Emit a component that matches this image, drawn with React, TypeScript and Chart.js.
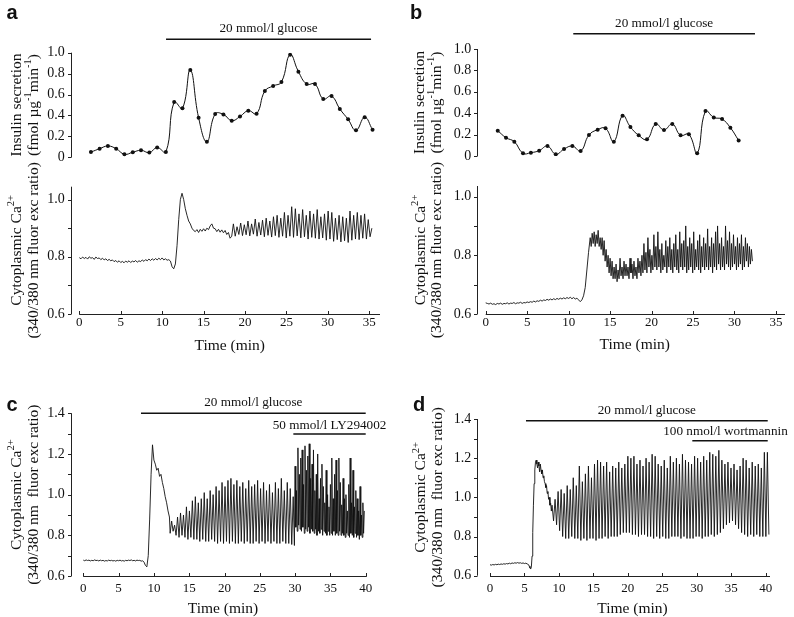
import React, { useEffect, useRef } from 'react';
import { Chart, registerables } from 'chart.js';
Chart.register(...registerables);

// ---------------- DATA ----------------
// Insulin secretion (fmol µg-1 min-1), panel a
const insATime = [1.4, 2.45, 3.45, 4.45, 5.45, 6.45, 7.45, 8.45, 9.4, 10.45, 11.45, 12.45, 13.4, 14.4, 15.4, 16.4, 17.4, 18.4, 19.4, 20.4, 21.4, 22.4, 23.4, 24.4, 25.45, 26.45, 27.45, 28.45, 29.45, 30.45, 31.45, 32.45, 33.4, 34.45, 35.4];
const insAVal = [0.05, 0.082, 0.108, 0.082, 0.029, 0.048, 0.067, 0.045, 0.093, 0.05, 0.529, 0.468, 0.835, 0.379, 0.149, 0.414, 0.41, 0.35, 0.39, 0.446, 0.417, 0.634, 0.682, 0.72, 0.981, 0.819, 0.7, 0.7, 0.557, 0.586, 0.462, 0.363, 0.258, 0.382, 0.264];
// Insulin secretion, panel b
const insBTime = [1.45, 2.45, 3.45, 4.5, 5.45, 6.45, 7.45, 8.45, 9.45, 10.45, 11.45, 12.45, 13.5, 14.45, 15.45, 16.5, 17.45, 18.45, 19.45, 20.5, 21.5, 22.5, 23.5, 24.5, 25.5, 26.5, 27.5, 28.5, 29.5, 30.5];
const insBVal = [0.237, 0.171, 0.134, 0.025, 0.031, 0.05, 0.093, 0.016, 0.065, 0.093, 0.047, 0.196, 0.246, 0.259, 0.134, 0.377, 0.271, 0.193, 0.156, 0.299, 0.243, 0.299, 0.193, 0.203, 0.025, 0.42, 0.36, 0.345, 0.265, 0.145];

// Ca2+ ratio, panel a: baseline (from 0 min, every 0.2 min)
const caABase = [0.797, 0.793, 0.799, 0.794, 0.798, 0.792, 0.8, 0.795, 0.797, 0.791, 0.799, 0.794, 0.796, 0.79, 0.795, 0.789, 0.793, 0.787, 0.791, 0.786, 0.789, 0.783, 0.787, 0.781, 0.786, 0.78, 0.784, 0.779, 0.785, 0.781, 0.786, 0.78, 0.785, 0.782, 0.787, 0.781, 0.786, 0.783, 0.789, 0.784, 0.79, 0.786, 0.792, 0.787, 0.793, 0.788, 0.794, 0.789, 0.795, 0.79, 0.796, 0.789, 0.793, 0.788, 0.79];
// transient (from 11.0 min, every 0.2 min)
const caARise = [0.785, 0.765, 0.758, 0.775, 0.84, 0.93, 1.0, 1.022, 1.0, 0.968, 0.945, 0.925, 0.915, 0.9, 0.892, 0.888, 0.895, 0.885, 0.896, 0.889, 0.898, 0.89, 0.9, 0.895, 0.908, 0.915, 0.9, 0.898, 0.888, 0.896, 0.886, 0.894, 0.884, 0.892, 0.878, 0.885, 0.865, 0.872];
// oscillations (from 18.6 min): peaks and troughs
const caAPeaks = [0.915, 0.905, 0.918, 0.912, 0.925, 0.915, 0.932, 0.92, 0.928, 0.935, 0.925, 0.94, 0.945, 0.935, 0.955, 0.945, 0.975, 0.968, 0.95, 0.965, 0.945, 0.96, 0.95, 0.965, 0.94, 0.95, 0.96, 0.955, 0.935, 0.945, 0.94, 0.935, 0.96, 0.945, 0.955, 0.945, 0.95, 0.93, 0.9];
const caATroughs = [0.872, 0.878, 0.874, 0.877, 0.873, 0.879, 0.872, 0.876, 0.87, 0.875, 0.869, 0.874, 0.868, 0.872, 0.866, 0.872, 0.868, 0.873, 0.866, 0.87, 0.862, 0.868, 0.865, 0.862, 0.866, 0.858, 0.862, 0.854, 0.86, 0.852, 0.856, 0.85, 0.858, 0.862, 0.86, 0.865, 0.862, 0.87];

// Ca2+ ratio, panel b
const caBBase = [0.638, 0.636, 0.634, 0.637, 0.633, 0.635, 0.632, 0.636, 0.634, 0.637, 0.633, 0.636, 0.635, 0.638, 0.634, 0.637, 0.636, 0.639, 0.635, 0.638, 0.637, 0.64, 0.636, 0.639, 0.638, 0.641, 0.639, 0.642, 0.64, 0.644, 0.641, 0.645, 0.643, 0.647, 0.644, 0.648, 0.646, 0.65, 0.647, 0.651, 0.648, 0.652, 0.649, 0.653, 0.65, 0.654, 0.651, 0.655, 0.652, 0.656, 0.653, 0.657, 0.652, 0.656, 0.651, 0.654, 0.648];
const caBRise = [0.642, 0.648, 0.662, 0.69, 0.75, 0.81];
const caBPeaks = [0.86, 0.875, 0.88, 0.87, 0.885, 0.86, 0.86, 0.85, 0.82, 0.8, 0.79, 0.78, 0.76, 0.77, 0.75, 0.79, 0.76, 0.78, 0.77, 0.76, 0.79, 0.77, 0.78, 0.76, 0.79, 0.78, 0.8, 0.84, 0.81, 0.86, 0.82, 0.8, 0.87, 0.83, 0.88, 0.82, 0.84, 0.8, 0.85, 0.83, 0.86, 0.82, 0.84, 0.87, 0.82, 0.88, 0.84, 0.85, 0.9, 0.83, 0.86, 0.84, 0.88, 0.82, 0.85, 0.87, 0.83, 0.86, 0.84, 0.89, 0.83, 0.86, 0.84, 0.88, 0.9, 0.84, 0.86, 0.83, 0.9, 0.85, 0.88, 0.84, 0.87, 0.83, 0.86, 0.84, 0.87, 0.83, 0.86, 0.84, 0.83, 0.82];
const caBTroughs = [0.83, 0.84, 0.83, 0.84, 0.83, 0.82, 0.8, 0.78, 0.76, 0.74, 0.73, 0.72, 0.72, 0.71, 0.72, 0.73, 0.72, 0.73, 0.73, 0.72, 0.74, 0.72, 0.73, 0.72, 0.74, 0.73, 0.74, 0.75, 0.74, 0.76, 0.74, 0.75, 0.76, 0.75, 0.76, 0.74, 0.75, 0.76, 0.74, 0.76, 0.75, 0.74, 0.76, 0.75, 0.74, 0.76, 0.75, 0.76, 0.74, 0.75, 0.76, 0.74, 0.75, 0.76, 0.75, 0.74, 0.76, 0.75, 0.76, 0.75, 0.76, 0.74, 0.76, 0.75, 0.77, 0.75, 0.76, 0.75, 0.77, 0.76, 0.75, 0.76, 0.77, 0.75, 0.76, 0.77, 0.75, 0.76, 0.78, 0.76, 0.77, 0.78];

// Ca2+ ratio, panel c
const caCBase = [0.678, 0.675, 0.679, 0.676, 0.678, 0.674, 0.677, 0.675, 0.679, 0.676, 0.677, 0.674, 0.678, 0.675, 0.677, 0.673, 0.676, 0.674, 0.678, 0.675, 0.677, 0.674, 0.676, 0.673, 0.677, 0.675, 0.678, 0.674, 0.676, 0.673, 0.677, 0.675, 0.678, 0.676, 0.679, 0.675, 0.677, 0.674, 0.678, 0.676, 0.677, 0.673, 0.675];
const caCRise = [0.668, 0.652, 0.645, 0.7, 0.88, 1.1, 1.245, 1.17, 1.15, 1.12, 1.13, 1.09, 1.1, 1.06, 1.03, 0.99, 0.96, 0.92, 0.89];
const caCTroughs = [0.81, 0.82, 0.8, 0.79, 0.8, 0.79, 0.78, 0.79, 0.78, 0.78, 0.77, 0.78, 0.77, 0.77, 0.78, 0.77, 0.76, 0.77, 0.76, 0.77, 0.76, 0.77, 0.76, 0.76, 0.77, 0.76, 0.77, 0.76, 0.76, 0.77, 0.76, 0.77, 0.76, 0.77, 0.76, 0.77, 0.76, 0.76, 0.77, 0.76, 0.76, 0.755];
const caCPeaks = [0.87, 0.85, 0.89, 0.91, 0.9, 0.94, 0.92, 0.97, 0.99, 0.96, 0.98, 1.01, 0.98, 1.02, 1.0, 1.04, 1.02, 1.06, 1.04, 1.07, 1.08, 1.05, 1.07, 1.04, 1.06, 1.03, 1.07, 1.04, 1.05, 1.07, 1.03, 1.06, 1.02, 1.05, 1.01, 1.06, 1.03, 1.08, 1.02, 1.06, 1.03, 0.99];
const caCLyTroughs = [0.75, 0.84, 0.82, 0.85, 0.83, 0.82, 0.84, 0.81, 0.83, 0.82, 0.84, 0.81, 0.83, 0.82, 0.81, 0.83, 0.8, 0.82, 0.81, 0.83, 0.8, 0.82, 0.81, 0.8, 0.82, 0.8, 0.81, 0.8, 0.82, 0.8, 0.81, 0.8, 0.82, 0.8, 0.81, 0.8, 0.79, 0.81, 0.8, 0.79, 0.81, 0.8, 0.79, 0.81, 0.79, 0.8, 0.78, 0.8, 0.79, 0.81];
const caCLyPeaks = [1.14, 1.02, 1.23, 1.1, 1.18, 1.22, 1.05, 1.24, 1.12, 1.19, 1.25, 1.08, 1.15, 1.22, 1.02, 1.1, 1.2, 0.98, 1.08, 1.15, 1.04, 0.96, 1.12, 1.0, 0.94, 1.05, 1.18, 0.98, 1.1, 1.17, 1.02, 1.18, 1.06, 0.95, 1.08, 0.98, 1.0, 0.92, 1.05, 1.18, 0.96, 1.12, 0.94, 1.02, 0.98, 0.92, 1.04, 0.9, 0.96, 0.92];

// Ca2+ ratio, panel d
const caDBase = [0.656, 0.654, 0.657, 0.655, 0.658, 0.656, 0.659, 0.657, 0.66, 0.658, 0.661, 0.659, 0.662, 0.66, 0.664, 0.661, 0.665, 0.663, 0.666, 0.664, 0.667, 0.664, 0.666, 0.663, 0.665, 0.662, 0.664, 0.66];
const caDRise = [0.656, 0.648, 0.64, 0.634, 0.645, 0.7, 0.82, 0.96, 1.07, 1.14, 1.18, 1.19, 1.17, 1.15, 1.18, 1.16, 1.13, 1.17, 1.14, 1.12, 1.14, 1.1, 1.11, 1.08, 1.07, 1.05, 1.06, 1.02, 1.03, 0.99, 1.0, 0.96, 0.97, 0.93];
const caDPeaks = [0.96, 0.99, 1.03, 1.04, 1.02, 1.06, 1.04, 1.1, 1.06, 1.16, 1.08, 1.12, 1.16, 1.1, 1.17, 1.19, 1.18, 1.16, 1.18, 1.13, 1.16, 1.15, 1.18, 1.15, 1.17, 1.21, 1.2, 1.21, 1.17, 1.19, 1.16, 1.2, 1.18, 1.22, 1.21, 1.17, 1.16, 1.19, 1.15, 1.21, 1.18, 1.2, 1.17, 1.22, 1.19, 1.18, 1.17, 1.21, 1.2, 1.18, 1.21, 1.19, 1.23, 1.22, 1.21, 1.24, 1.19, 1.17, 1.18, 1.15, 1.17, 1.14, 1.16, 1.2, 1.19, 1.15, 1.18, 1.16, 1.17, 1.15, 1.23, 1.23];
const caDTroughs = [0.88, 0.86, 0.83, 0.8, 0.79, 0.79, 0.8, 0.79, 0.79, 0.78, 0.79, 0.78, 0.79, 0.79, 0.78, 0.79, 0.79, 0.8, 0.79, 0.8, 0.8, 0.8, 0.81, 0.82, 0.82, 0.82, 0.81, 0.81, 0.8, 0.81, 0.81, 0.8, 0.8, 0.79, 0.8, 0.79, 0.8, 0.79, 0.79, 0.8, 0.8, 0.8, 0.79, 0.8, 0.79, 0.79, 0.79, 0.8, 0.8, 0.79, 0.8, 0.8, 0.81, 0.8, 0.81, 0.82, 0.84, 0.86, 0.87, 0.88, 0.86, 0.84, 0.82, 0.81, 0.8, 0.81, 0.8, 0.81, 0.8, 0.8, 0.8, 0.81];

// Treatment periods (min)
const glucoseA = [10.47, 35.22];
const glucoseB = [10.56, 32.47];
const glucoseC = [8.17, 40.0];
const lyC = [29.75, 40.0];
const glucoseD = [5.22, 40.29];
const wortD = [29.35, 40.29];

// Axis ranges (min)
const timeRangeA = [-1.04, 36.3];
const timeRangeB = [-1.013, 36.09];
const timeRangeC = [-1.785, 40.14];
const timeRangeD = [-1.843, 40.62];

// ---------------- HELPERS ----------------
type Pt = { x: number; y: number };
const seg = (t0: number, dt: number, vals: number[]): Pt[] =>
  vals.map((v, i) => ({ x: +(t0 + i * dt).toFixed(4), y: v }));
const alt = (t0: number, half: number, a: number[], b: number[]): Pt[] => {
  const out: Pt[] = [];
  const n = Math.max(a.length, b.length);
  for (let i = 0; i < n; i++) {
    if (i < a.length) out.push({ x: +(t0 + 2 * i * half).toFixed(4), y: a[i] });
    if (i < b.length) out.push({ x: +(t0 + (2 * i + 1) * half).toFixed(4), y: b[i] });
  }
  return out;
};
const pairs = (ts: number[], vs: number[]): Pt[] => ts.map((t, i) => ({ x: t, y: vs[i] }));

const traceA = [...seg(0, 0.2, caABase), ...seg(11.0, 0.2, caARise), ...alt(18.6, 0.22, caAPeaks, caATroughs)];
const traceB = [...seg(0, 0.2, caBBase), ...seg(11.4, 0.2, caBRise), ...alt(12.6, 0.12, caBPeaks, caBTroughs)];
const traceC = [...seg(0, 0.2, caCBase), ...seg(8.6, 0.2, caCRise), ...alt(12.3, 0.21, caCTroughs, caCPeaks), ...alt(29.9, 0.1, caCLyTroughs, caCLyPeaks)];
const traceD = [...seg(0, 0.2, caDBase), ...seg(5.6, 0.1, caDRise), ...alt(9.0, 0.22, caDPeaks, caDTroughs)];

// ---------------- STYLE / LAYOUT ----------------
const W = 794;
const H = 617;
const YW = 40;
const XH = 30;
const SERIF = '"Liberation Serif", "Times New Roman", Times, serif';
const SANS = '"Liberation Sans", Arial, Helvetica, sans-serif';
const INK = '#111';
const AXIS = '#222';

type RSeg = { t: string; sup?: boolean };
const insTitle: RSeg[][] = [
  [{ t: 'Insulin secretion' }],
  [{ t: '(fmol µg' }, { t: '-1', sup: true }, { t: 'min' }, { t: '-1', sup: true }, { t: ')' }],
];
const caTitleAB: RSeg[][] = [
  [{ t: 'Cytoplasmic Ca' }, { t: '2+', sup: true }],
  [{ t: '(340/380 nm fluor exc ratio)' }],
];
const caTitleCD: RSeg[][] = [
  [{ t: 'Cytoplasmic Ca' }, { t: '2+', sup: true }],
  [{ t: '(340/380 nm  fluor exc ratio)' }],
];

interface Bar { range: number[]; y: number; label: string; ly: number; lx?: number }
interface Spec {
  area: { l: number; t: number; r: number; b: number };
  xr: number[];
  yr: number[];
  ystep: number;
  insulin: boolean;
  xTickPad: number;
  datasets: any[];
  yTitle: RSeg[][];
  yTitleX: number[];
  xTitle?: { x: number; y: number };
  bars: Bar[];
  panel?: { text: string; x: number; y: number };
}

const insulinDataset = (pts: Pt[]) => ({
  data: pts,
  borderColor: INK,
  borderWidth: 1,
  pointRadius: 2,
  pointBackgroundColor: INK,
  pointBorderWidth: 0,
  tension: 0.45,
  fill: false,
});
const caDataset = (pts: Pt[]) => ({
  data: pts,
  borderColor: INK,
  borderWidth: 0.9,
  pointRadius: 0,
  tension: 0,
  fill: false,
});

const SPECS: Spec[] = [
  {
    area: { l: 70.7, t: 52.7, r: 380, b: 157.3 },
    xr: timeRangeA, yr: [0, 1.0], ystep: 0.2, insulin: true, xTickPad: 1,
    datasets: [insulinDataset(pairs(insATime, insAVal))],
    yTitle: insTitle, yTitleX: [20.5, 37.5],
    bars: [{ range: glucoseA, y: 39.3, label: '20 mmol/l glucose', ly: 31.7 }],
    panel: { text: 'a', x: 6.5, y: 18.5 },
  },
  {
    area: { l: 70.7, t: 186.7, r: 380, b: 314 },
    xr: timeRangeA, yr: [0.6, 1.045], ystep: 0.1, insulin: false, xTickPad: 1,
    datasets: [caDataset(traceA)],
    yTitle: caTitleAB, yTitleX: [20.5, 37.5],
    xTitle: { x: 229.7, y: 345.7 },
    bars: [],
  },
  {
    area: { l: 477.3, t: 49, r: 785, b: 156 },
    xr: timeRangeB, yr: [0, 1.0], ystep: 0.2, insulin: true, xTickPad: 1,
    datasets: [insulinDataset(pairs(insBTime, insBVal))],
    yTitle: insTitle, yTitleX: [424, 440.5],
    bars: [{ range: glucoseB, y: 33.7, label: '20 mmol/l glucose', ly: 27.3 }],
    panel: { text: 'b', x: 410, y: 18.5 },
  },
  {
    area: { l: 477.3, t: 186, r: 785, b: 314 },
    xr: timeRangeB, yr: [0.6, 1.036], ystep: 0.1, insulin: false, xTickPad: 1,
    datasets: [caDataset(traceB)],
    yTitle: caTitleAB, yTitleX: [424.5, 440.5],
    xTitle: { x: 634.7, y: 345 },
    bars: [],
  },
  {
    area: { l: 70.7, t: 413.3, r: 366.7, b: 576 },
    xr: timeRangeC, yr: [0.6, 1.4], ystep: 0.1, insulin: false, xTickPad: 5,
    datasets: [caDataset(traceC)],
    yTitle: caTitleCD, yTitleX: [20.5, 37.5],
    xTitle: { x: 223, y: 608.5 },
    bars: [
      { range: glucoseC, y: 413.3, label: '20 mmol/l glucose', ly: 405.5 },
      { range: lyC, y: 434, label: '50 mmol/l LY294002', ly: 429.3 },
    ],
    panel: { text: 'c', x: 6.5, y: 411 },
  },
  {
    area: { l: 477.3, t: 419, r: 770, b: 575.7 },
    xr: timeRangeD, yr: [0.6, 1.4], ystep: 0.1, insulin: false, xTickPad: 5,
    datasets: [caDataset(traceD)],
    yTitle: caTitleCD, yTitleX: [425, 442],
    xTitle: { x: 632.5, y: 609 },
    bars: [
      { range: glucoseD, y: 420.7, label: '20 mmol/l glucose', ly: 414 },
      { range: wortD, y: 440.7, label: '100 nmol/l wortmannin', ly: 435, lx: 725.5 },
    ],
    panel: { text: 'd', x: 413, y: 411 },
  },
];

// ---------------- DRAWING PLUGIN ----------------
function drawRotRich(ctx: CanvasRenderingContext2D, segs: RSeg[], bx: number, cy: number, size: number) {
  const supSize = size * 0.68;
  const widths = segs.map((s) => {
    ctx.font = `${s.sup ? supSize : size}px ${SERIF}`;
    return ctx.measureText(s.t).width;
  });
  const total = widths.reduce((a, b) => a + b, 0);
  ctx.save();
  ctx.translate(bx, cy);
  ctx.rotate(-Math.PI / 2);
  ctx.textAlign = 'left';
  ctx.textBaseline = 'alphabetic';
  let x = -total / 2;
  segs.forEach((s, i) => {
    ctx.font = `${s.sup ? supSize : size}px ${SERIF}`;
    ctx.fillText(s.t, x, s.sup ? -size * 0.4 : 0);
    x += widths[i];
  });
  ctx.restore();
}

const decorPlugin = {
  id: 'decor',
  afterDraw(chart: any, _args: any, opts: any) {
    const spec: Spec = opts.spec;
    if (!spec) return;
    const ctx: CanvasRenderingContext2D = chart.ctx;
    const xs = chart.scales.x;
    const ys = chart.scales.y;
    const area = chart.chartArea;
    ctx.save();
    ctx.strokeStyle = AXIS;
    ctx.lineWidth = 1;
    ctx.fillStyle = INK;

    // y axis line + ticks (outward)
    const ax = Math.round(area.left) + 0.5;
    ctx.beginPath();
    ctx.moveTo(ax, ys.getPixelForValue(ys.min));
    ctx.lineTo(ax, ys.getPixelForValue(ys.max));
    for (const tk of ys.ticks) {
      const y = Math.round(ys.getPixelForValue(tk.value)) + 0.5;
      ctx.moveTo(ax - 3.5, y);
      ctx.lineTo(ax, y);
    }
    ctx.stroke();

    // x axis line + ticks (inward), starting at time 0
    if (!spec.insulin) {
      const ay = Math.round(area.bottom) + 0.5;
      ctx.beginPath();
      ctx.moveTo(xs.getPixelForValue(0), ay);
      ctx.lineTo(area.right, ay);
      for (const tk of xs.ticks) {
        const x = Math.round(xs.getPixelForValue(tk.value)) + 0.5;
        ctx.moveTo(x, ay);
        ctx.lineTo(x, ay - 3.5);
      }
      ctx.stroke();
    }

    // treatment bars
    for (const b of spec.bars) {
      const x1 = xs.getPixelForValue(b.range[0]);
      const x2 = xs.getPixelForValue(b.range[1]);
      ctx.beginPath();
      ctx.lineWidth = 1.6;
      ctx.strokeStyle = INK;
      ctx.moveTo(x1, b.y);
      ctx.lineTo(x2, b.y);
      ctx.stroke();
      ctx.font = `13.2px ${SERIF}`;
      ctx.textAlign = 'center';
      ctx.textBaseline = 'alphabetic';
      ctx.fillText(b.label, b.lx ?? (x1 + x2) / 2, b.ly);
    }

    // x title
    if (spec.xTitle) {
      ctx.font = `15.5px ${SERIF}`;
      ctx.textAlign = 'center';
      ctx.textBaseline = 'middle';
      ctx.fillText('Time (min)', spec.xTitle.x, spec.xTitle.y);
    }

    // y title (two rotated lines)
    const cy = (area.top + area.bottom) / 2;
    spec.yTitle.forEach((line, i) => drawRotRich(ctx, line, spec.yTitleX[i], cy, 15.5));

    // panel letter
    if (spec.panel) {
      ctx.font = `bold 20px ${SANS}`;
      ctx.textAlign = 'left';
      ctx.textBaseline = 'alphabetic';
      ctx.fillText(spec.panel.text, spec.panel.x, spec.panel.y);
    }
    ctx.restore();
  },
};

function buildConfig(spec: Spec): any {
  const a = spec.area;
  return {
    type: 'line',
    data: { datasets: spec.datasets },
    options: {
      animation: false,
      responsive: false,
      events: [],
      layout: { padding: { left: a.l - YW, top: a.t, right: W - a.r, bottom: H - a.b - XH } },
      plugins: { legend: { display: false }, tooltip: { enabled: false }, decor: { spec } },
      scales: {
        x: {
          type: 'linear',
          min: spec.xr[0],
          max: spec.xr[1],
          grid: { display: false, drawTicks: false },
          border: { display: false },
          ticks: {
            display: !spec.insulin,
            stepSize: 5,
            padding: spec.xTickPad,
            autoSkip: false,
            maxRotation: 0,
            includeBounds: false,
            color: INK,
            font: { family: SERIF, size: 13 },
            callback: (v: number) => String(Math.round(v)),
          },
          afterFit: (s: any) => { s.height = XH; },
        },
        y: {
          type: 'linear',
          min: spec.yr[0],
          max: spec.yr[1],
          grid: { display: false, drawTicks: false },
          border: { display: false },
          ticks: {
            stepSize: spec.ystep,
            padding: 6,
            autoSkip: false,
            includeBounds: false,
            color: INK,
            font: { family: SERIF, size: 14 },
            callback: (v: number) => {
              if (spec.insulin) return Math.abs(v) < 1e-9 ? '0' : v.toFixed(1);
              return Math.round(v * 10) % 2 === 0 ? v.toFixed(1) : '';
            },
          },
          afterFit: (s: any) => { s.width = YW; },
        },
      },
    },
    plugins: [decorPlugin],
  };
}

export default function App() {
  const refs = useRef<(HTMLCanvasElement | null)[]>([]);
  useEffect(() => {
    const charts = SPECS.map((s, i) => new Chart(refs.current[i] as HTMLCanvasElement, buildConfig(s)));
    return () => charts.forEach((c) => c.destroy());
  }, []);
  return (
    <div style={{ position: 'fixed', left: 0, top: 0, width: W, height: H, background: '#fff', overflow: 'hidden' }}>
      {SPECS.map((_, i) => (
        <canvas
          key={i}
          ref={(el) => { refs.current[i] = el; }}
          width={W}
          height={H}
          style={{ position: 'absolute', left: 0, top: 0, width: W, height: H }}
        />
      ))}
    </div>
  );
}
